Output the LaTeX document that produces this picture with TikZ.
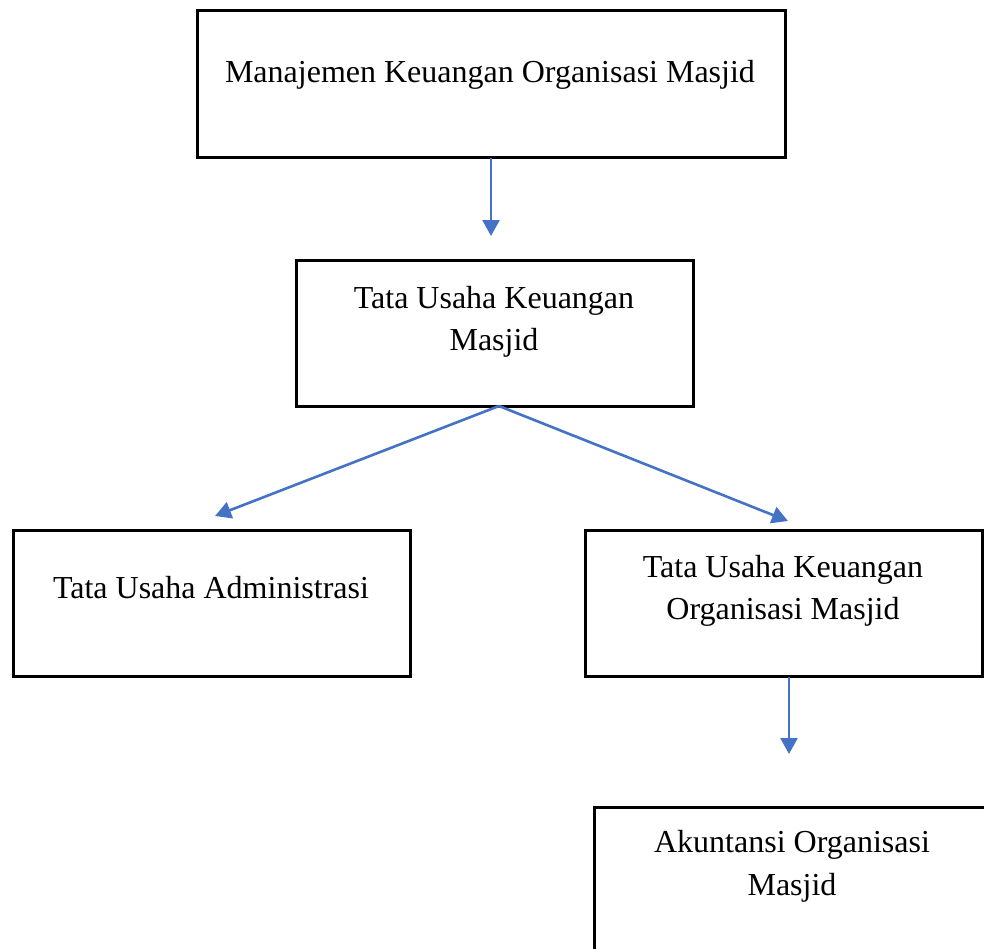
\documentclass[tikz,border=0pt]{standalone}
\usepackage{fontspec}
\setmainfont{Liberation Serif}
\usetikzlibrary{arrows.meta}
\definecolor{linkblue}{HTML}{4472C4}
\begin{document}
\begin{tikzpicture}[x=1pt,y=-1pt,
  box/.style={draw=black,line width=2.6pt,rectangle,inner sep=0pt,
    minimum width=397pt,minimum height=146pt,anchor=north west},
  label/.style={anchor=base,inner sep=0pt,font=\fontsize{32}{42}\selectfont},
  link/.style={draw=linkblue,line width=2.6pt,-{Triangle[length=16pt,width=17pt]}}]
  \clip (0,0) rectangle (984,948);
  \fill[white] (0,0) rectangle (984,948);

  % boxes
  \node[box,minimum width=588pt,minimum height=147pt] (top) at (196.3,9.3) {};
  \node[box] (mid) at (295.3,259.3) {};
  \node[box] (left) at (12.3,529.3) {};
  \node[box] (right) at (584.3,529.3) {};
  \node[box] (acc) at (593.3,806.3) {};

  % texts
  \node[label] (tTop) at (490,82) {Manajemen Keuangan Organisasi Masjid};
  \node[label] (tMid1) at (494,308) {Tata Usaha Keuangan};
  \node[label] (tMid2) at (494,350) {Masjid};
  \node[label] (tLeft) at (211,598) {Tata Usaha Administrasi};
  \node[label] (tRight1) at (783,577) {Tata Usaha Keuangan};
  \node[label] (tRight2) at (783,619) {Organisasi Masjid};
  \node[label] (tAcc1) at (792,852) {Akuntansi Organisasi};
  \node[label] (tAcc2) at (792,895) {Masjid};

  % connector ends
  \coordinate (topOut) at (491,158);
  \coordinate (topIn) at (491,236);
  \coordinate (midOut) at (499,406);
  \coordinate (leftIn) at (215,516);
  \coordinate (rightIn) at (788,521);
  \coordinate (rightOut) at (789,677);
  \coordinate (accIn) at (789,754);

  \draw[link] (topOut) -- (topIn);
  \draw[link] (midOut) -- (leftIn);
  \draw[link] (midOut) -- (rightIn);
  \draw[link] (rightOut) -- (accIn);
\end{tikzpicture}
\end{document}
